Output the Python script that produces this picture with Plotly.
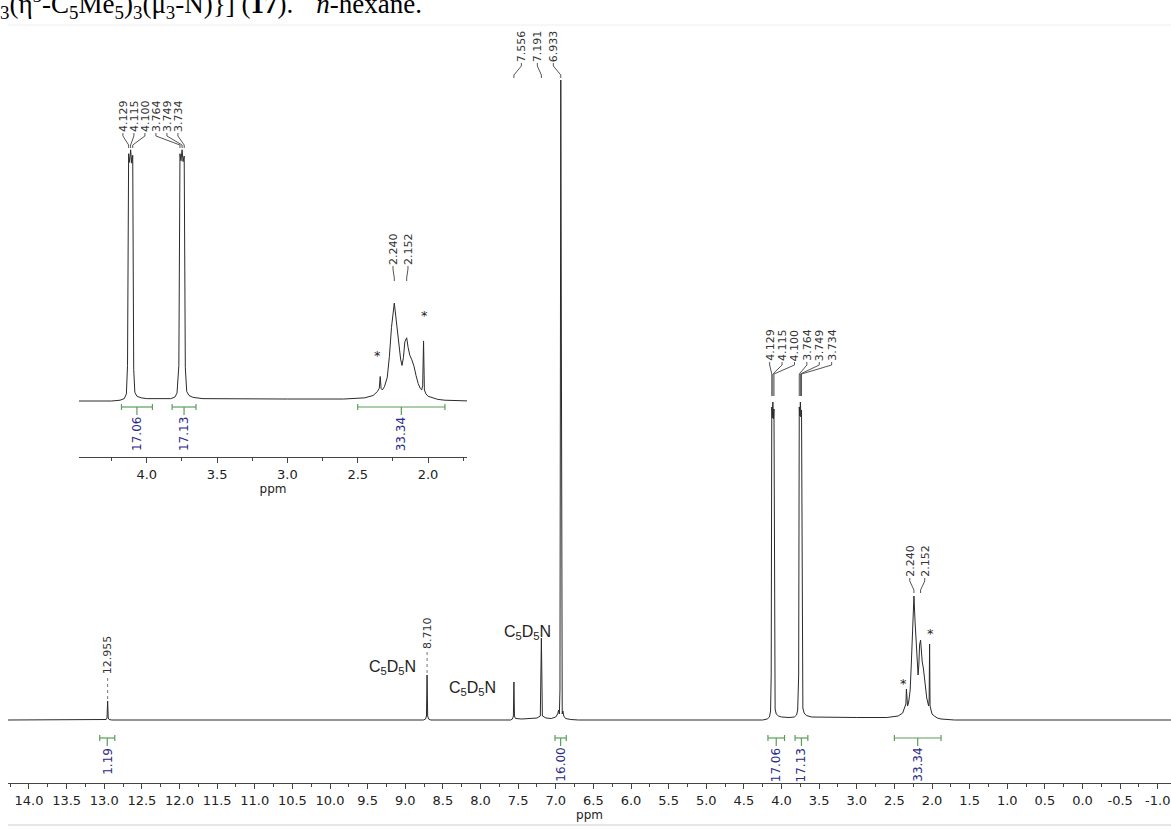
import plotly.graph_objects as go

W, H = 1171, 829

# ---------------- spectrum trace: chemical shift (ppm) / intensity (a.u.)
SPEC_PPM = [14.28, 13.00, 12.975, 12.963, 12.955, 12.947, 12.935, 12.90,
            8.76, 8.73, 8.718, 8.710, 8.702, 8.69, 8.66,
            7.60, 7.575, 7.563, 7.556, 7.549, 7.535, 7.45, 7.35, 7.25, 7.205, 7.191, 7.178,
            7.13, 7.06, 7.00, 6.975, 6.962, 6.952, 6.944, 6.933, 6.922, 6.914, 6.905, 6.893,
            6.87, 6.80, 6.70,
            4.25, 4.19, 4.16, 4.145, 4.137, 4.129, 4.122, 4.115, 4.107, 4.100, 4.093, 4.085,
            4.07, 4.04, 4.00, 3.90, 3.83, 3.80, 3.785, 3.772, 3.764, 3.757, 3.749, 3.742,
            3.734, 3.726, 3.716, 3.70, 3.67, 3.60, 3.30, 3.00, 2.60, 2.45, 2.39, 2.36, 2.347,
            2.340, 2.334, 2.325, 2.31, 2.29, 2.275, 2.26, 2.240, 2.225, 2.21, 2.195, 2.185,
            2.175, 2.165, 2.152, 2.142, 2.13, 2.115, 2.10, 2.085, 2.07, 2.055, 2.045, 2.038,
            2.032, 2.026, 2.015, 2.00, 1.97, 1.93, 1.88, 1.80, 1.70, -1.18]
SPEC_INT = [0, 0, 0.5, 2, 19, 2, 0.5, 0,
            0, 1, 4, 45, 4, 1, 0,
            0, 1, 4, 38, 4, 1.5, 1, 1.5, 2, 4, 82, 4,
            2, 1.5, 3, 6, 10, 6, 30, 640, 30, 6, 9, 4,
            1.5, 0.5, 0,
            0, 1, 3, 9, 45, 313, 302, 318, 301, 311, 40, 11,
            6, 4, 3, 2.5, 3, 5, 10, 45, 313, 304, 318, 303, 310, 42, 12,
            7, 4.5, 3, 2.5, 2.5, 2.5, 4, 7, 12, 16,
            31, 16, 14, 18, 30, 56, 93, 124, 98, 72, 53, 45,
            55, 75, 80, 68, 58, 52, 44, 32, 22, 16, 14, 20,
            76, 14, 9, 6, 4, 2, 1, 0.3, 0, 0]

# ---------------- peak picking
MAIN_PEAK_GROUPS = [[7.556, 7.191, 6.933],
                    [4.129, 4.115, 4.100, 3.764, 3.749, 3.734],
                    [2.240, 2.152]]
MAIN_SINGLE_PEAKS = [12.955, 8.710]
INSET_PEAK_GROUPS = [[4.129, 4.115, 4.100, 3.764, 3.749, 3.734],
                     [2.240, 2.152]]

# ---------------- integrals
MAIN_INT_FROM = [13.06, 7.01, 4.18, 3.82, 2.50]
MAIN_INT_TO = [12.86, 6.86, 3.96, 3.65, 1.88]
MAIN_INT_TEXT = ["1.19", "16.00", "17.06", "17.13", "33.34"]
INSET_INT_FROM = [4.18, 3.82, 2.50]
INSET_INT_TO = [3.96, 3.65, 1.88]
INSET_INT_TEXT = ["17.06", "17.13", "33.34"]

# ---------------- solvent / impurity annotations (ppm, intensity)
SOLVENT_PPM = [9.163, 8.113, 7.369]
SOLVENT_INT = [53, 32, 88]
STAR_PPM = [2.014, 2.385]
STAR_INT = [87, 37]
INSET_STAR_PPM = [2.028, 2.356]
INSET_STAR_INT = [108, 58]

# ---------------- axis ticks
MAIN_TICKS = [14.0, 13.5, 13.0, 12.5, 12.0, 11.5, 11.0, 10.5, 10.0, 9.5, 9.0, 8.5, 8.0,
              7.5, 7.0, 6.5, 6.0, 5.5, 5.0, 4.5, 4.0, 3.5, 3.0, 2.5, 2.0, 1.5, 1.0,
              0.5, 0.0, -0.5, -1.0]
MAIN_TICK_TEXT = ["14.0", "13.5", "13.0", "12.5", "12.0", "11.5", "11.0", "10.5", "10.0",
                  "9.5", "9.0", "8.5", "8.0", "7.5", "7.0", "6.5", "6.0", "5.5", "5.0",
                  "4.5", "4.0", "3.5", "3.0", "2.5", "2.0", "1.5", "1.0", "0.5", "0.0",
                  "-0.5", "-1.0"]
INSET_TICKS = [4.0, 3.5, 3.0, 2.5, 2.0]
INSET_TICK_TEXT = ["4.0", "3.5", "3.0", "2.5", "2.0"]

TITLE = ("<sub>3</sub>(η<sup>5</sup>-C<sub>5</sub>Me<sub>5</sub>)<sub>3</sub>"
         "(μ<sub>3</sub>-N)}] (<b>17</b>). <sup>*</sup> <i>n</i>-hexane.")

# ---------------- geometry of the two plot areas (pixels)
M_L, M_R, M_T, M_B, M_BASE = 8, 1171, 0, 783, 720
M_X = [14.279, -1.176]
I_L, I_R, I_T, I_B, I_BASE = 79, 467, 40, 457, 401
I_X = [4.482, 1.723]
I_K = 0.79  # inset pixels per intensity unit

m_ppm = (M_X[0] - M_X[1]) / (M_R - M_L)   # ppm per pixel
i_ppm = (I_X[0] - I_X[1]) / (I_R - I_L)
m_u = 1.0           # intensity units per pixel (main)
i_u = 1.0 / I_K     # intensity units per pixel (inset)

LINE = "#2a2a2a"
CONN = "#555555"
GREEN = "#5a9e5a"
NAVY = "#2a2a8a"
LABEL_FONT = dict(family="DejaVu Sans", size=11, color="#333333")

fig = go.Figure()

for xa, ya in (("x", "y"), ("x2", "y2")):
    fig.add_trace(go.Scatter(x=SPEC_PPM, y=SPEC_INT, mode="lines", xaxis=xa, yaxis=ya,
                             line=dict(color=LINE, width=1), hoverinfo="skip",
                             showlegend=False))

annotations = []


def peak_groups(groups, bottoms, ends, spacings, shifts, xa, ya, ppp, upp):
    """Rotated shift labels spread above a multiplet, joined to the peaks by
    short bent leaders; bottoms/ends are pixel heights above the baseline."""
    cx, cy = [], []
    for peaks, bottom, end, sp, sh in zip(groups, bottoms, ends, spacings, shifts):
        n = len(peaks)
        centre = (max(peaks) + min(peaks)) / 2 - sh * ppp
        b = bottom * upp
        e = (end if end is not None else bottom - 15) * upp
        for i, p in enumerate(peaks):
            lx = centre + ((n - 1) / 2 - i) * sp * ppp
            cx += [lx, lx, p, p, None]
            cy += [b, b - 3 * upp, b - 12 * upp, min(e, b - 12 * upp), None]
            annotations.append(dict(x=lx, y=b, xref=xa, yref=ya, text=f"{p:.3f}",
                                    textangle=-90, showarrow=False, xanchor="center",
                                    yanchor="bottom", font=LABEL_FONT, borderpad=0))
    fig.add_trace(go.Scatter(x=cx, y=cy, mode="lines", xaxis=xa, yaxis=ya,
                             line=dict(color=CONN, width=1), hoverinfo="skip",
                             showlegend=False))


def integrals(x0s, x1s, texts, bar_px, xa, ya, upp):
    gx, gy = [], []
    by = -bar_px * upp
    for a, b, t in zip(x0s, x1s, texts):
        c = (a + b) / 2
        gx += [a, b, None, a, a, None, b, b, None, c, c, None]
        gy += [by, by, None, by - 3 * upp, by + 3 * upp, None,
               by - 3 * upp, by + 3 * upp, None, by, by - 8 * upp, None]
        annotations.append(dict(x=c, y=by - 9 * upp, xref=xa, yref=ya, text=t,
                                textangle=-90, showarrow=False, xanchor="center",
                                yanchor="top", borderpad=0,
                                font=dict(family="DejaVu Sans", size=12, color=NAVY)))
    fig.add_trace(go.Scatter(x=gx, y=gy, mode="lines", xaxis=xa, yaxis=ya,
                             line=dict(color=GREEN, width=1.2), hoverinfo="skip",
                             showlegend=False))


# peak labels, main spectrum
peak_groups(MAIN_PEAK_GROUPS, [657, 358, 142], [None, 324, None], [16, 12.4, 15],
            [0, 14, 0], "x", "y", m_ppm, m_u)
# peak labels, inset
peak_groups(INSET_PEAK_GROUPS, [268, 135], [None, None], [11, 15], [-6, 0],
            "x2", "y2", i_ppm, i_u)

# single peak labels with dotted leader
sx, sy = [], []
for p, bottom in zip(MAIN_SINGLE_PEAKS, [45, 70]):
    top = SPEC_INT[SPEC_PPM.index(p)]
    sx += [p, p, None]
    sy += [top + 2, bottom, None]
    annotations.append(dict(x=p, y=bottom, xref="x", yref="y", text=f"{p:.3f}",
                            textangle=-90, showarrow=False, xanchor="center",
                            yanchor="bottom", font=LABEL_FONT, borderpad=0))
fig.add_trace(go.Scatter(x=sx, y=sy, mode="lines",
                         line=dict(color="#777777", width=1, dash="dot"),
                         hoverinfo="skip", showlegend=False))

integrals(MAIN_INT_FROM, MAIN_INT_TO, MAIN_INT_TEXT, 18, "x", "y", m_u)
integrals(INSET_INT_FROM, INSET_INT_TO, INSET_INT_TEXT, 6, "x2", "y2", i_u)

for p, v in zip(SOLVENT_PPM, SOLVENT_INT):
    annotations.append(dict(x=p, y=v, xref="x", yref="y",
                            text="C<sub>5</sub>D<sub>5</sub>N", showarrow=False,
                            font=dict(family="Liberation Sans", size=16, color="#222222")))
for p, v in zip(STAR_PPM, STAR_INT):
    annotations.append(dict(x=p, y=v, xref="x", yref="y", text="*", showarrow=False,
                            font=dict(family="DejaVu Sans", size=13, color="#222222")))
for p, v in zip(INSET_STAR_PPM, INSET_STAR_INT):
    annotations.append(dict(x=p, y=v, xref="x2", yref="y2", text="*", showarrow=False,
                            font=dict(family="DejaVu Sans", size=13, color="#222222")))

# document caption above the spectrum (its upper half lies beyond the page edge)
annotations.append(dict(x=-2 / W, y=1 - 25 / H, xref="paper", yref="paper", text=TITLE,
                        showarrow=False, xanchor="left", yanchor="bottom",
                        font=dict(family="Liberation Serif", size=27, color="#000000")))


def minor(ticks):
    lo, hi = min(ticks), max(ticks)
    out, v = [], lo - 0.25
    while v <= hi + 0.3:
        if all(abs(v - t) > 1e-6 for t in ticks):
            out.append(round(v, 2))
        v += 0.25
    return out


axis_common = dict(showline=True, linecolor="#444444", linewidth=1, ticks="outside",
                   ticklen=5, tickcolor="#444444", showgrid=False, zeroline=False,
                   tickmode="array", tickfont=dict(family="DejaVu Sans", size=13,
                                                   color="#222222"))

fig.update_layout(
    width=W, height=H, margin=dict(l=0, r=0, t=0, b=0),
    paper_bgcolor="white", plot_bgcolor="rgba(0,0,0,0)", showlegend=False,
    xaxis=dict(domain=[M_L / W, M_R / W], range=M_X, tickvals=MAIN_TICKS,
               ticktext=MAIN_TICK_TEXT, anchor="y",
               minor=dict(tickvals=minor(MAIN_TICKS), ticklen=3, ticks="outside",
                          tickcolor="#444444"),
               title=dict(text="ppm", standoff=2,
                          font=dict(family="DejaVu Sans", size=12, color="#222222")),
               **axis_common),
    yaxis=dict(domain=[1 - M_B / H, 1 - M_T / H],
               range=[-(M_B - M_BASE) * m_u, (M_BASE - M_T) * m_u], visible=False),
    xaxis2=dict(domain=[I_L / W, I_R / W], range=I_X, tickvals=INSET_TICKS,
                ticktext=INSET_TICK_TEXT, anchor="y2",
                minor=dict(tickvals=minor(INSET_TICKS), ticklen=3, ticks="outside",
                           tickcolor="#444444"),
                title=dict(text="ppm", standoff=2,
                           font=dict(family="DejaVu Sans", size=12, color="#222222")),
                **axis_common),
    yaxis2=dict(domain=[1 - I_B / H, 1 - I_T / H],
                range=[-(I_B - I_BASE) * i_u, (I_BASE - I_T) * i_u], visible=False),
    annotations=annotations,
    shapes=[dict(type="line", xref="paper", yref="paper", x0=M_L / W, x1=1,
                 y0=1 - 25 / H, y1=1 - 25 / H, line=dict(color="#eeeeee", width=1)),
            dict(type="line", xref="paper", yref="paper", x0=M_L / W, x1=1,
                 y0=1 - 825 / H, y1=1 - 825 / H, line=dict(color="#e6e6e6", width=2))],
)

fig.write_html("out.html")
